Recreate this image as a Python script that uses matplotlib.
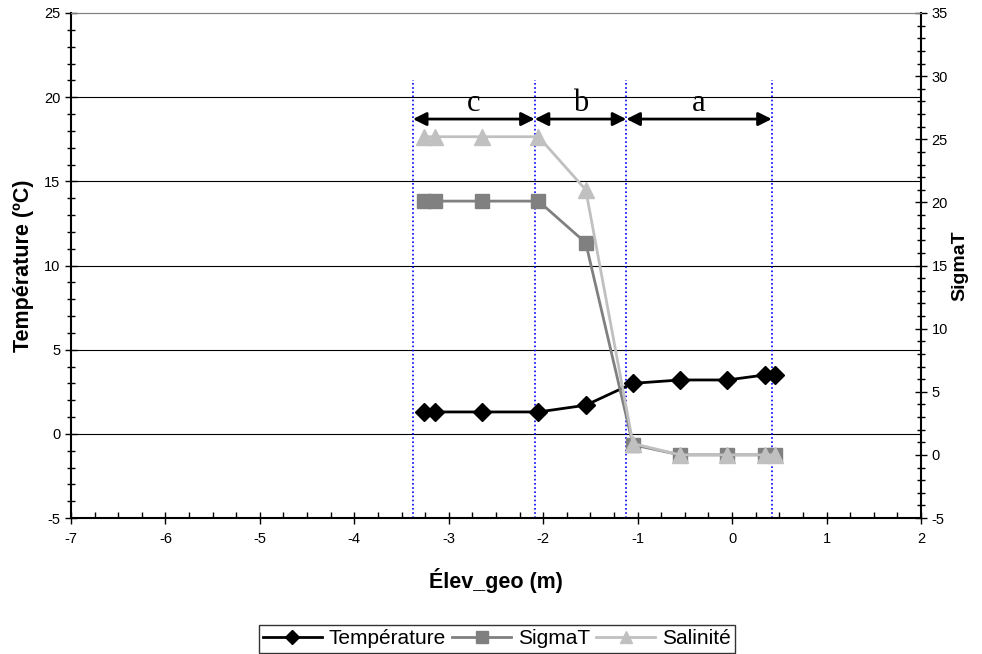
import matplotlib
matplotlib.use("Agg")
import matplotlib.pyplot as plt
from matplotlib.ticker import MultipleLocator

plt.rcParams['font.family'] = ['Liberation Sans', 'DejaVu Sans']
plt.rcParams['axes.unicode_minus'] = False

# ---- data ----
elev_geo = [-3.26, -3.15, -2.65, -2.05, -1.55, -1.05, -0.55, -0.05, 0.35, 0.45]
temperature = [1.3, 1.3, 1.3, 1.3, 1.7, 3.0, 3.2, 3.2, 3.5, 3.5]
sigma_t = [20.1, 20.1, 20.1, 20.1, 16.8, 0.8, 0.0, 0.0, 0.0, 0.0]
salinite = [25.2, 25.2, 25.2, 25.2, 21.0, 0.9, 0.0, 0.0, 0.0, 0.0]

zone_bounds = [-3.38, -2.09, -1.12, 0.42]
zone_labels = ['c', 'b', 'a']
zone_arrow_y = 18.7
zone_line_top = 21.0

x_ticks = [-7, -6, -5, -4, -3, -2, -1, 0, 1, 2]
left_ticks = [-5, 0, 5, 10, 15, 20, 25]
right_ticks = [-5, 0, 5, 10, 15, 20, 25, 30, 35]
grid_levels = [0, 5, 10, 15, 20]

fig = plt.figure(figsize=(9.82, 6.54), dpi=100)
ax = fig.add_axes([71 / 982, 1 - 518 / 654, (921 - 71) / 982, (518 - 13) / 654])
ax2 = ax.twinx()

ax.set_xlim(-7, 2)
ax.set_ylim(-5, 25)
ax2.set_ylim(-5, 35)

ax.set_xticks(x_ticks)
ax.set_yticks(left_ticks)
ax2.set_yticks(right_ticks)
ax.xaxis.set_minor_locator(MultipleLocator(0.25))
ax.yaxis.set_minor_locator(MultipleLocator(1))
ax2.yaxis.set_minor_locator(MultipleLocator(1))

ax.tick_params(axis='x', which='major', direction='inout', length=8, width=1, labelsize=10.5, pad=6)
ax.tick_params(axis='x', which='minor', direction='in', length=4, width=1)
ax.tick_params(axis='y', which='major', direction='inout', length=8, width=1, labelsize=10.5)
ax.tick_params(axis='y', which='minor', direction='inout', length=6, width=1)
ax2.tick_params(axis='y', which='major', direction='inout', length=8, width=1, labelsize=10.5)
ax2.tick_params(axis='y', which='minor', direction='inout', length=6, width=1)

for sp in ['left', 'bottom']:
    ax.spines[sp].set_linewidth(1.5)
ax2.spines['right'].set_linewidth(1.5)
ax2.spines['left'].set_visible(False)
ax2.spines['bottom'].set_visible(False)
ax.spines['right'].set_visible(False)
ax.spines['top'].set_color('#808080')
ax2.spines['top'].set_color('#808080')

for g in grid_levels:
    ax.axhline(g, color='black', lw=0.8, zorder=0)

ax.vlines(zone_bounds, -5, zone_line_top, colors='#0000ff', linestyles=(0, (1, 1.5)), lw=1.2, zorder=1)

for i, lab in enumerate(zone_labels):
    x0, x1 = zone_bounds[i], zone_bounds[i + 1]
    ax.annotate('', xy=(x0, zone_arrow_y), xytext=(x1, zone_arrow_y),
                arrowprops=dict(arrowstyle='<|-|>', color='black', lw=2,
                                mutation_scale=20, shrinkA=0, shrinkB=0), zorder=3)
    ax.text((x0 + x1) / 2, zone_arrow_y + 0.45, lab, ha='center', va='baseline',
            fontsize=22, family=['Liberation Serif', 'DejaVu Serif'])

l1, = ax.plot(elev_geo, temperature, color='black', lw=2, marker='D', markersize=9,
              label='Température', zorder=4)
l2, = ax2.plot(elev_geo, sigma_t, color='#808080', lw=2, marker='s', markersize=10,
               label='SigmaT', zorder=4)
l3, = ax2.plot(elev_geo, salinite, color='#c0c0c0', lw=2, marker='^', markersize=11,
               label='Salinité', zorder=5)

ax.set_xlabel('Élev_geo (m)', fontsize=15.5, fontweight='bold')
ax.xaxis.set_label_coords(0.5, -0.099)
ax.set_ylabel('Température (ºC)', fontsize=15.5, fontweight='bold')
ax.yaxis.set_label_coords(-0.044, 0.5)
ax2.set_ylabel('SigmaT', fontsize=14, fontweight='bold')
ax2.yaxis.set_label_coords(1.036, 0.5)

leg = fig.legend(handles=[l1, l2, l3], loc='center', bbox_to_anchor=(497 / 982, 1 - 639 / 654),
                 ncol=3, fontsize=15, frameon=True, fancybox=False, edgecolor='black',
                 handlelength=2.8, handletextpad=0.35, columnspacing=0.3, borderpad=0.2,
                 markerscale=0.8)
leg.get_frame().set_linewidth(1)

fig.savefig('out.png', dpi=100)
